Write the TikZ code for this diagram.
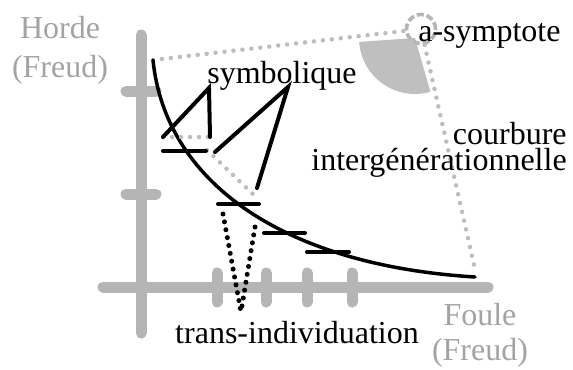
\documentclass[tikz,border=0pt]{standalone}
\usepackage{xcolor}
\usepackage{fontspec}
\setmainfont{Liberation Serif}
\usepackage{tikz}
\definecolor{axisgray}{HTML}{B5B5B5}
\definecolor{textgray}{HTML}{A3A3A3}
\definecolor{dotgray}{HTML}{BDBDBD}
\definecolor{wedgegray}{HTML}{BFBFBF}

\begin{document}
\begin{tikzpicture}[x=0.6pt, y=0.6pt,
    axis/.style={axisgray, line width=6.6pt, line cap=round},
    graydots/.style={dotgray, line width=2.7pt, line cap=round, dash pattern=on 0pt off 5.4pt},
    blackdots/.style={black, line width=3pt, line cap=round, dash pattern=on 0pt off 4.8pt},
    stroke/.style={black, line width=2.4pt, line cap=round},
    lbl/.style={inner sep=0pt, font=\fontsize{19.2}{23.4}\selectfont}]
  \useasboundingbox (0,0) rectangle (573,369);
  \draw[axis] (141,36) -- (141,334);
  \draw[axis] (103,82) -- (488,82);
  \foreach \y in {278,175} \draw[axis] (126,\y) -- (156,\y);
  \foreach \x in {217,266,307,352} \draw[axis] (\x,67) -- (\x,96);

  \coordinate (top) at (153,309);
  \coordinate (tail) at (475,92);
  \coordinate (foot) at (474,104);
  \fill[wedgegray] (415,331) -- ++(184:56) arc[start angle=184, end angle=286, radius=56] -- cycle;
  \node[circle, draw=axisgray, line width=2.2pt, dash pattern=on 4.2pt off 1.8pt,
        minimum size=17.4pt, inner sep=0pt] (asym) at (421,340) {};
  \draw[graydots] (top) -- (asym);
  \draw[graydots] (asym) -- (foot);
  \draw[line width=2.1pt, line cap=round] (top) .. controls (165,189) and (280,104) .. (tail);

  \node[lbl, textgray, align=center] (horde) at (60,319) {Horde\\(Freud)};
  \node[lbl, textgray, align=center, font=\fontsize{19.2}{21}\selectfont] (foule) at (480,34) {Foule\\(Freud)};
  \node[lbl, anchor=base] (symb) at (282,286) {symbolique};
  \node[lbl, anchor=base west] (asymlbl) at (418,328) {a-symptote};
  \node[lbl, anchor=east, align=right, font=\fontsize{19.2}{15.6}\selectfont] (courb) at (567,219)
    {courbure\\intergénérationnelle};
  \node[lbl, anchor=base] (trans) at (297,26) {trans-individuation};

  % symbolique
  \coordinate (s1) at (163,232);
  \coordinate (s2) at (209,281);
  \coordinate (s3) at (210,232);
  \coordinate (s4) at (215,217);
  \coordinate (s5) at (288,282);
  \coordinate (s6) at (257,181);
  \coordinate (g1) at (207,219);
  \coordinate (g2) at (257,171);
  \draw[graydots] (s1) -- (s3);
  \draw[graydots] (g1) -- (g2);
  \draw[stroke] (s1) -- (s2) -- (s3);
  \draw[stroke] (s4) -- (s5) -- (s6);
  \foreach \xa/\xb/\y in {163/206/218, 218/259/165, 264/305/136, 307/349/117}
    \draw[stroke] (\xa,\y) -- (\xb,\y);

  % trans-individuation
  \coordinate (tip) at (241,57);
  \draw[blackdots] (223,155) -- (tip);
  \draw[blackdots] (255,142) -- (tip);
\end{tikzpicture}
\end{document}
